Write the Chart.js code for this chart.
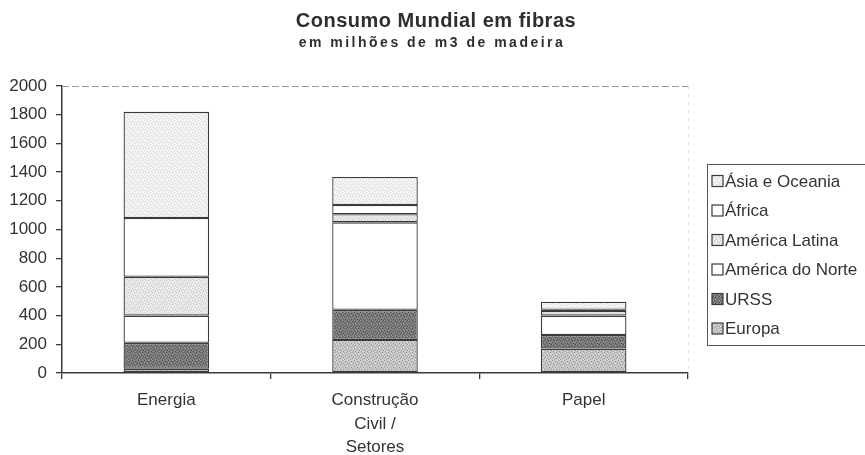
<!DOCTYPE html>
<html>
<head>
<meta charset="utf-8">
<script src="https://cdn.jsdelivr.net/npm/chart.js@4"></script>
<style>
  html, body { margin:0; padding:0; background:#fff; }
  #wrap { width:865px; height:455px; position:relative; }
</style>
</head>
<body>
<div id="wrap"><canvas id="chart"></canvas></div>
<script>
const categorias = ['Energia', ['Construção', 'Civil /', 'Setores'], 'Papel'];
const europa = [30, 230, 170];
const urss = [180, 210, 95];
const americaNorte = [190, 610, 135];
const americaLatina = [270, 56, 32];
const africa = [410, 65, 8];
const asiaOceania = [740, 195, 57];
const yMax = 2000;
const yStep = 200;

const FONT = '"Liberation Sans", Arial, sans-serif';
const INK = '#333';
const EDGE = '#3a3a3a';

// small stipple tiles so the fills look like the scanned grey hatching
function stipple(base, dark, light){
  const c = document.createElement('canvas');
  c.width = 6; c.height = 6;
  const g = c.getContext('2d');
  g.fillStyle = base;
  g.fillRect(0, 0, 6, 6);
  const darkDots = [[0,0],[3,1],[1,3],[4,4],[5,2],[2,5]];
  const lightDots = [[2,0],[5,0],[0,2],[3,3],[1,5],[4,5]];
  g.fillStyle = dark;
  darkDots.forEach(p => g.fillRect(p[0], p[1], 1, 1));
  g.fillStyle = light;
  lightDots.forEach(p => g.fillRect(p[0], p[1], 1, 1));
  return g.createPattern(c, 'repeat');
}

const fills = {
  europa: stipple('#c4c4c4', '#9a9a9a', '#dedede'),
  urss: stipple('#777777', '#555555', '#9a9a9a'),
  americaNorte: '#ffffff',
  americaLatina: stipple('#e6e6e6', '#c8c8c8', '#f6f6f6'),
  africa: '#ffffff',
  asiaOceania: stipple('#f0f0f0', '#d8d8d8', '#ffffff')
};

function ds(label, data, fill){
  return {
    label, data,
    backgroundColor: fill,
    borderColor: EDGE,
    borderWidth: 1.3,
    borderSkipped: false,
    categoryPercentage: 1,
    barPercentage: 0.41
  };
}

const decor = {
  id: 'decor',
  beforeDatasetsDraw(chart){
    const {ctx, chartArea: a} = chart;
    ctx.save();
    ctx.strokeStyle = '#9a9a9a';
    ctx.lineWidth = 1;
    ctx.setLineDash([7, 3]);
    ctx.beginPath();
    ctx.moveTo(a.left, a.top + 0.5);
    ctx.lineTo(a.right, a.top + 0.5);
    ctx.stroke();
    ctx.strokeStyle = '#dddddd';
    ctx.setLineDash([3, 5]);
    ctx.beginPath();
    ctx.moveTo(a.right + 0.5, a.top);
    ctx.lineTo(a.right + 0.5, a.bottom);
    ctx.stroke();
    ctx.restore();
  },
  afterDraw(chart){
    const ctx = chart.ctx;
    ctx.save();
    ctx.fillStyle = '#2e2e2e';
    ctx.textAlign = 'center';
    ctx.textBaseline = 'middle';
    ctx.font = 'bold 20px ' + FONT;
    ctx.letterSpacing = '0.5px';
    ctx.fillText('Consumo Mundial em fibras', 436, 21);
    ctx.font = 'bold 14px ' + FONT;
    ctx.letterSpacing = '2.5px';
    ctx.fillText('em milhões de m3 de madeira', 432, 43);
    ctx.letterSpacing = '0px';

    // legend box (runs off the right edge as in the scan)
    ctx.strokeStyle = '#555';
    ctx.lineWidth = 1;
    ctx.strokeRect(707.5, 164.5, 200, 181);
    ctx.font = '17px ' + FONT;
    ctx.textAlign = 'left';
    const items = chart.data.datasets.slice().reverse();
    items.forEach((d, i) => {
      const y = 181 + i * 29.5;
      ctx.fillStyle = d.backgroundColor;
      ctx.fillRect(712, y - 5.5, 11, 11);
      ctx.strokeStyle = EDGE;
      ctx.lineWidth = 1.2;
      ctx.strokeRect(712, y - 5.5, 11, 11);
      ctx.fillStyle = INK;
      ctx.fillText(d.label, 725, y + 1);
    });
    ctx.restore();
  }
};

new Chart(document.getElementById('chart'), {
  type: 'bar',
  data: {
    labels: categorias,
    datasets: [
      ds('Europa', europa, fills.europa),
      ds('URSS', urss, fills.urss),
      ds('América do Norte', americaNorte, fills.americaNorte),
      ds('América Latina', americaLatina, fills.americaLatina),
      ds('África', africa, fills.africa),
      ds('Ásia e Oceania', asiaOceania, fills.asiaOceania)
    ]
  },
  options: {
    responsive: true,
    maintainAspectRatio: false,
    animation: false,
    layout: { padding: { left: 0, right: 177, top: 86, bottom: 0 } },
    plugins: {
      legend: { display: false },
      title: { display: false },
      tooltip: { enabled: false }
    },
    scales: {
      x: {
        stacked: true,
        grid: { display: true, drawOnChartArea: false, offset: true, color: EDGE, tickLength: 6, lineWidth: 1.3 },
        border: { color: EDGE, width: 1.5 },
        ticks: { color: INK, font: { family: FONT, size: 17, lineHeight: 1.38 }, padding: 10, maxRotation: 0 },
        afterFit(scale){ scale.height = 82; }
      },
      y: {
        stacked: true,
        min: 0,
        max: yMax,
        grid: { display: true, drawOnChartArea: false, color: EDGE, tickLength: 6, lineWidth: 1.3 },
        border: { color: EDGE, width: 1.5 },
        ticks: { stepSize: yStep, color: INK, font: { family: FONT, size: 17 }, padding: 9, callback: v => String(v) },
        afterFit(scale){ scale.width = 62; }
      }
    }
  },
  plugins: [decor]
});
</script>
</body>
</html>
